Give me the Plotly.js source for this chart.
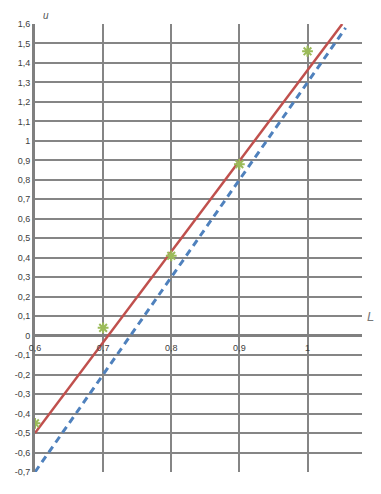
<!DOCTYPE html>
<html><head><meta charset="utf-8">
<script src="https://cdn.plot.ly/plotly-3.0.1.min.js"></script>
<style>html,body{margin:0;padding:0;background:#fff}#chart{width:381px;height:494px}</style>
</head><body><div id="chart"></div>
<script>
const pointsL = [0.6, 0.7, 0.8, 0.9, 1.0];
const pointsU = [-0.45, 0.04, 0.41, 0.88, 1.46];
const redL = [0.6, 1.051];
const redU = [-0.5, 1.6];
const blueL = [0.6, 1.056];
const blueU = [-0.7, 1.58];
const xTickVals = [0.6, 0.7, 0.8, 0.9, 1.0];
const xTickText = ['0,6', '0,7', '0,8', '0,9', '1'];
const yTickVals = [1.6,1.5,1.4,1.3,1.2,1.1,1,0.9,0.8,0.7,0.6,0.5,0.4,0.3,0.2,0.1,0,-0.1,-0.2,-0.3,-0.4,-0.5,-0.6,-0.7];
const yTickText = ['1,6','1,5','1,4','1,3','1,2','1,1','1','0,9','0,8','0,7','0,6','0,5','0,4','0,3','0,2','0,1','0','-0,1','-0,2','-0,3','-0,4','-0,5','-0,6','-0,7'];

const yMin = -0.7, yMax = 1.6;
const traces = [
  {x: redL, y: redU, mode: 'lines', line: {color: '#c0504d', width: 2.5}, hoverinfo: 'skip'},
  {x: blueL, y: blueU, mode: 'lines', line: {color: '#4f81bd', width: 3, dash: '7px,5px'}, hoverinfo: 'skip'},
  {x: pointsL, y: pointsU, mode: 'markers', marker: {symbol: 'asterisk-open', size: 9, color: '#9bbb59', line: {color: '#9bbb59', width: 2}}, hoverinfo: 'skip'}
];
const layout = {
  width: 381, height: 494,
  margin: {l: 35, r: 19, t: 24, b: 22},
  paper_bgcolor: '#fff', plot_bgcolor: '#fff',
  showlegend: false,
  font: {family: 'Liberation Sans, Arial, sans-serif', size: 9, color: '#404040'},
  xaxis: {
    range: [0.6, 1.08], tickvals: xTickVals, ticktext: xTickText,
    showgrid: true, gridcolor: '#858585', gridwidth: 2,
    zeroline: false, showline: false, ticks: '',
    anchor: 'free', position: (0 - yMin) / (yMax - yMin), side: 'bottom',
    ticklabelstandoff: 5,
    tickfont: {size: 9, color: '#404040'}
  },
  yaxis: {
    range: [yMin, yMax], tickvals: yTickVals, ticktext: yTickText,
    showgrid: true, gridcolor: '#858585', gridwidth: 2,
    zeroline: true, zerolinecolor: '#808080', zerolinewidth: 3,
    showline: true, linecolor: '#808080', linewidth: 3, ticks: '',
    tickfont: {size: 9, color: '#404040'}
  },
  annotations: [
    {xref: 'paper', yref: 'paper', x: 0.018, y: 1.0, yshift: 16, text: '<i>u</i>', showarrow: false, font: {size: 10, color: '#555'}},
    {xref: 'paper', yref: 'paper', x: 1.0, y: (0 - yMin) / (yMax - yMin), xshift: 14, yshift: 10, text: '<i>L</i>', showarrow: false, font: {size: 13, color: '#777'}}
  ]
};
Plotly.newPlot('chart', traces, layout, {displayModeBar: false, staticPlot: true});
</script></body></html>
